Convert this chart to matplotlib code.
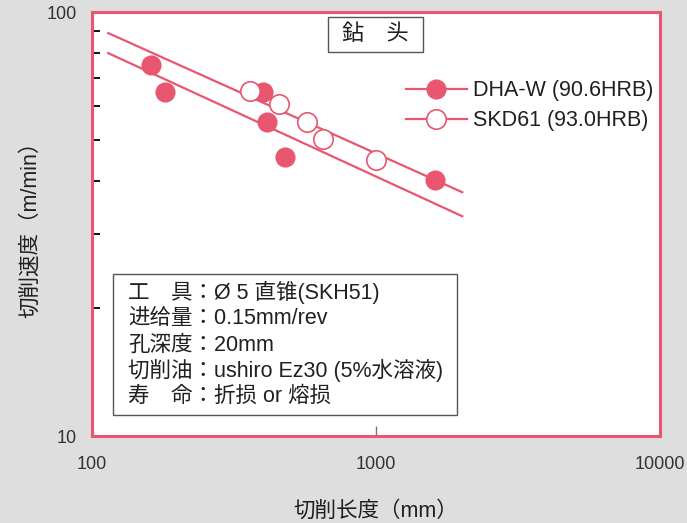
import numpy as np
import matplotlib.pyplot as plt
from matplotlib.lines import Line2D
from matplotlib.patches import Rectangle
from matplotlib.ticker import FixedLocator, NullFormatter, NullLocator

plt.rcParams['font.family'] = ['Liberation Sans', 'Noto Sans CJK JP', 'DejaVu Sans']

pink = '#e8566f'
txt = '#231f20'

# DHA-W (90.6HRB) - filled
dha_x = [161, 181, 400, 413, 478, 1614]
dha_y = [75.0, 64.7, 64.7, 55.1, 45.5, 40.2]
# SKD61 (93.0HRB) - open
skd_x = [360, 455, 571, 650, 1000]
skd_y = [65.1, 60.6, 55.1, 50.2, 44.8]
# trend lines (end points)
upper_x = [114, 2010]
upper_y = [89.2, 37.6]
lower_x = [114, 2010]
lower_y = [80.0, 33.0]

labels = ['DHA-W (90.6HRB)', 'SKD61 (93.0HRB)']
info = ['工\u3000具：Ø 5 直锥(SKH51)',
        '进给量：0.15mm/rev',
        '孔深度：20mm',
        '切削油：ushiro Ez30 (5%水溶液)',
        '寿\u3000命：折损 or 熔损']

fig = plt.figure(figsize=(6.87, 5.23), dpi=100, facecolor='#dedede')
ax = fig.add_axes([0.134, 0.166, 0.827, 0.811])
ax.set_facecolor('white')
ax.set_xscale('log')
ax.set_yscale('log')
ax.set_xlim(100, 10000)
ax.set_ylim(10, 100)

ax.plot(upper_x, upper_y, color=pink, lw=1.6, zorder=2)
ax.plot(lower_x, lower_y, color=pink, lw=1.6, zorder=2)
ax.plot(dha_x, dha_y, 'o', ms=13.5, color=pink, mec=pink, zorder=3)
ax.plot(skd_x, skd_y, 'o', ms=14, mfc='white', mec=pink, mew=1.2, zorder=4)

for s in ax.spines.values():
    s.set_color(pink)
    s.set_linewidth(2.2)

ax.set_xticks([100, 1000, 10000])
ax.set_xticklabels(['100', '1000', '10000'])
ax.xaxis.set_minor_locator(NullLocator())
ax.set_yticks([10, 100])
ax.set_yticklabels(['10', '100'])
ax.yaxis.set_minor_locator(FixedLocator([20, 30, 40, 50, 60, 70, 80, 90]))
ax.yaxis.set_minor_formatter(NullFormatter())
ax.tick_params(axis='x', which='major', direction='in', length=7, width=1, color='#777777',
               labelsize=13, labelcolor='#333333', pad=14, top=False)
ax.tick_params(axis='y', which='major', length=0, labelsize=13, labelcolor='#333333', pad=11)
ax.tick_params(axis='y', which='minor', direction='in', length=6, width=1.3, color='black')

ax.set_xlabel('切削长度（mm）', fontsize=15.5, color=txt, labelpad=20)
ax.set_ylabel('切削速度（m/min）', fontsize=15.5, color=txt, labelpad=4)

# title box
ax.add_patch(Rectangle((0.4155, 0.906), 0.167, 0.0825, transform=ax.transAxes,
                       fc='white', ec='#555555', lw=1, zorder=5))
ax.text(0.499, 0.947, '鉆\u3000头', transform=ax.transAxes, ha='center', va='center',
        fontsize=16, color=txt, zorder=6)

# legend
handles = [Line2D([], [], color=pink, lw=1.6, marker='o', ms=13.5, mfc=pink, mec=pink),
           Line2D([], [], color=pink, lw=1.6, marker='o', ms=14, mfc='white', mec=pink, mew=1.2)]
leg = ax.legend(handles, labels, loc='upper left', bbox_to_anchor=(0.518, 0.885), frameon=False,
                fontsize=15.5, handlelength=2.84, handletextpad=0.28, labelspacing=0.42)
for t in leg.get_texts():
    t.set_color(txt)

# info box
ax.add_patch(Rectangle((0.037, 0.05), 0.606, 0.333, transform=ax.transAxes,
                       fc='white', ec='#555555', lw=1, zorder=5))
for i, line in enumerate(info):
    ax.text(0.063, 0.338 - i * 0.0613, line, transform=ax.transAxes, ha='left', va='center',
            fontsize=15.5, color=txt, zorder=6)

fig.savefig('out.png', dpi=100, facecolor=fig.get_facecolor())
